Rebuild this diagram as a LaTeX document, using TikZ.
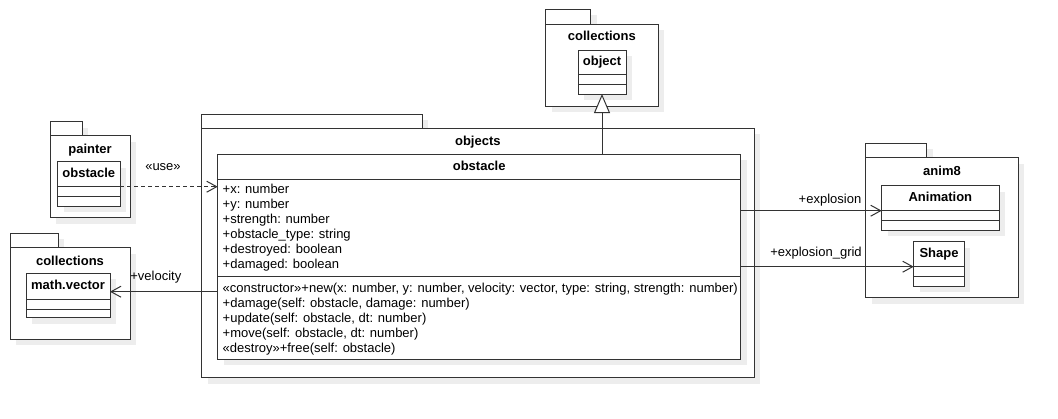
\documentclass[tikz,border=0pt]{standalone}
\usepackage{fontspec}
\setmainfont{Liberation Sans}
\usetikzlibrary{arrows.meta}
\usetikzlibrary{shadows}
\tikzset{umlline/.style={draw=black!80, line width=1pt},
 pkg/.style={umlline, fill=white, rectangle, inner sep=0pt, outer sep=0pt,
  anchor=north west,
  drop shadow={shadow xshift=6pt, shadow yshift=-6pt, fill=black!7, opacity=1}},
 cls/.style={pkg},
 title/.style={font=\fontsize{13}{15}\selectfont\bfseries, inner sep=0pt,
  text height=9.5pt, text depth=2.7pt},
 lbl/.style={font=\fontsize{13}{15}\selectfont, inner sep=0pt,
  text height=9.5pt, text depth=2.7pt},
 member/.style={font=\fontsize{13}{15}\selectfont, inner sep=0pt, anchor=base west},
 assoc/.style={umlline, -{Straight Barb[length=10pt, width=11pt]}},
 usedep/.style={assoc, dash pattern=on 4pt off 3pt},
 inherit/.style={umlline, -{Triangle[open, length=19pt, width=16pt, fill=white]}},
 }

\begin{document}
\begin{tikzpicture}[x=1pt, y=-1pt]
        \fill[white] (0,0) rectangle (1058,418);
        \useasboundingbox (0,0) rectangle (1058,418);
        % collections (top)
        \node[pkg, minimum width=45pt, minimum height=14.7pt] (coltoptab) at (545.7,9.3) {};
        \node[pkg, minimum width=112.3pt, minimum height=82pt] (coltop) at (545.7,24) {};
        \node[title] (coltoptitle) at (601.85,37.3) {collections};
        \node[cls, minimum width=48pt, minimum height=44pt] (objectbox) at (578,50) {};
        \node[title] (object) at (602,62.35) {object};
        \draw[umlline] (578,74.7) -- (626,74.7) (578,84.7) -- (626,84.7);
        % painter
        \node[pkg, minimum width=32pt, minimum height=14pt] (paintertab) at (50,121.7) {};
        \node[pkg, minimum width=80pt, minimum height=82pt] (painter) at (50,135.7) {};
        \node[title] (paintertitle) at (90,150) {painter};
        \node[cls, minimum width=62.3pt, minimum height=44.3pt] (pobstbox) at (57.7,161.7) {};
        \node[title] (pobst) at (88.85,174.2) {obstacle};
        \draw[umlline] (57.7,186.7) -- (120,186.7) (57.7,196.7) -- (120,196.7);
        % collections (left)
        \node[pkg, minimum width=48pt, minimum height=14.4pt] (colleft tab) at (10,233.3) {};
        \node[pkg, minimum width=120pt, minimum height=91.6pt] (colleft) at (10,247.7) {};
        \node[title] (collefttitle) at (70,261.7) {collections};
        \node[cls, minimum width=84pt, minimum height=44.4pt] (vecbox) at (26,273.3) {};
        \node[title] (vec) at (68,286.15) {math.vector};
        \draw[umlline] (26,299) -- (110,299) (26,309) -- (110,309);
        % objects
        \node[pkg, minimum width=220.6pt, minimum height=14.3pt] (objectstab) at (201.7,114) {};
        \node[pkg, minimum width=552.3pt, minimum height=249.4pt] (objects) at (201.7,128.3) {};
        \node[title] (objectstitle) at (477.85,141.7) {objects};
        \node[cls, minimum width=523pt, minimum height=205pt] (obstbox) at (217.7,154) {};
        \node[title] (obst) at (479.2,166.65) {obstacle};
        \draw[umlline] (217.7,179.3) -- (740.7,179.3) (217.7,276.7) -- (740.7,276.7);
        \foreach \t [count=\i from 0] in {+x: number, +y: number, +strength: number,
            +obstacle\_type: string, +destroyed: boolean, +damaged: boolean}
            \node[member] (a\i) at (222.5,{193+15*\i}) {\t};
        \foreach \t [count=\i from 0] in {{«constructor»+new(x: number, y: number, velocity: vector, type: string, strength: number)},
            {+damage(self: obstacle, damage: number)}, {+update(self: obstacle, dt: number)},
            {+move(self: obstacle, dt: number)}, {«destroy»+free(self: obstacle)}}
            \node[member] (o\i) at (222.5,{292.3+15*\i}) {\t};
        % anim8
        \node[pkg, minimum width=61pt, minimum height=14.4pt] (anim8tab) at (865.7,143.3) {};
        \node[pkg, minimum width=152.6pt, minimum height=140pt] (anim8) at (865.7,157.7) {};
        \node[title] (anim8title) at (942,172.3) {anim8};
        \node[cls, minimum width=117.3pt, minimum height=44.3pt] (animbox) at (881.7,185.7) {};
        \node[title] (anim) at (940.35,198.2) {Animation};
        \draw[umlline] (881.7,210.7) -- (999,210.7) (881.7,220.7) -- (999,220.7);
        \node[cls, minimum width=50.6pt, minimum height=44.3pt] (shapebox) at (913.7,241.7) {};
        \node[title] (shape) at (939,254.2) {Shape};
        \draw[umlline] (913.7,266.7) -- (964.3,266.7) (913.7,276.7) -- (964.3,276.7);
        % connectors
        \coordinate (usestart) at ([yshift=-25pt]pobstbox.north east);
        \draw[usedep] (usestart) -- (usestart -| obstbox.west);
        \node[lbl] (uselbl) at (163,166.7) {«use»};
        \coordinate (velend) at ([yshift=-18.4pt]vecbox.north east);
        \draw[assoc] (velend -| obstbox.west) -- (velend);
        \node[lbl] (vellbl) at (155.8,276.7) {+velocity};
        \draw[inherit] (objectbox.south |- obstbox.north) -- (objectbox.south);
        \coordinate (explend) at ([yshift=-25pt]animbox.north west);
        \draw[assoc] (explend -| obstbox.east) -- (explend);
        \node[lbl] (expllbl) at (830,200) {+explosion};
        \coordinate (gridend) at ([yshift=-25pt]shapebox.north west);
        \draw[assoc] (gridend -| obstbox.east) -- (gridend);
        \node[lbl] (gridlbl) at (816,252.7) {+explosion\_grid};
    \end{tikzpicture}
\end{document}
